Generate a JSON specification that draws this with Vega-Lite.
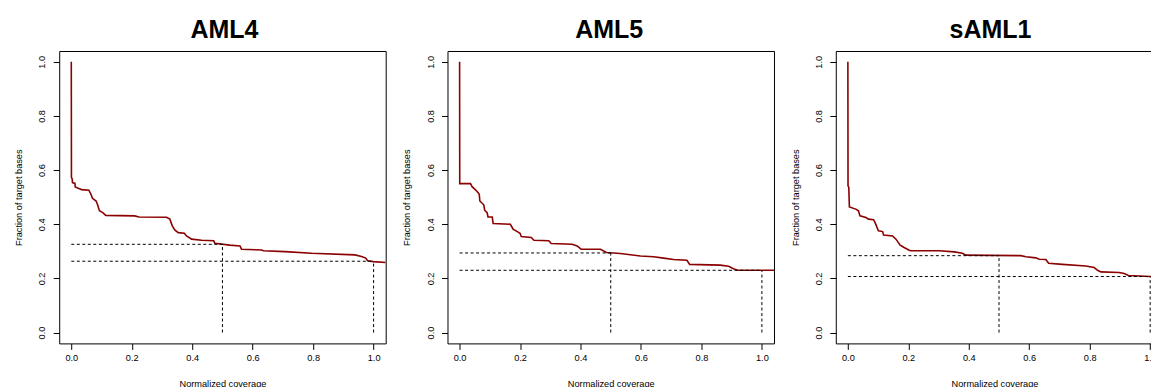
{
  "$schema": "https://vega.github.io/schema/vega-lite/v6.json",
  "background": "white",
  "padding": {"left": 14.2, "top": 17, "right": 0, "bottom": 0},
  "bounds": "flush",
  "spacing": 61.3,
  "config": {
    "font": "Liberation Sans",
    "view": {"stroke": "black", "strokeWidth": 1},
    "title": {"fontSize": 25, "fontWeight": "bold", "font": "Liberation Sans", "color": "black", "baseline": "alphabetic", "offset": 8.3, "anchor": "middle"},
    "axis": {"domain": false, "grid": false, "ticks": true, "tickSize": 6, "tickColor": "black", "tickWidth": 1, "labelFont": "Liberation Sans", "labelFontSize": 9.2, "labelColor": "black", "labelFlush": false, "labelOverlap": false, "labelBound": false, "titleFont": "Liberation Sans", "titleFontSize": 9.2, "titleFontWeight": "normal", "titleColor": "black"},
    "axisX": {"labelBaseline": "alphabetic", "labelPadding": 11, "titleBaseline": "alphabetic", "titleY": 43.2},
    "axisY": {"labelAngle": -90, "labelAlign": "center", "labelBaseline": "alphabetic", "labelPadding": 8.4, "titleAngle": -90, "titleBaseline": "alphabetic", "titleX": -37.5, "titleY": 146.2}
  },
  "datasets": {
    "curves": [
      {"panel": "AML4", "x": 0, "y": 1.0}, {"panel": "AML4", "x": 0.0005, "y": 0.573}, {"panel": "AML4", "x": 0.003, "y": 0.567}, {"panel": "AML4", "x": 0.004, "y": 0.554}, {"panel": "AML4", "x": 0.012, "y": 0.551}, {"panel": "AML4", "x": 0.013, "y": 0.538}, {"panel": "AML4", "x": 0.023, "y": 0.533}, {"panel": "AML4", "x": 0.034, "y": 0.528}, {"panel": "AML4", "x": 0.058, "y": 0.526}, {"panel": "AML4", "x": 0.065, "y": 0.511}, {"panel": "AML4", "x": 0.07, "y": 0.496}, {"panel": "AML4", "x": 0.082, "y": 0.486}, {"panel": "AML4", "x": 0.087, "y": 0.472}, {"panel": "AML4", "x": 0.093, "y": 0.45}, {"panel": "AML4", "x": 0.104, "y": 0.443}, {"panel": "AML4", "x": 0.114, "y": 0.433}, {"panel": "AML4", "x": 0.21, "y": 0.431}, {"panel": "AML4", "x": 0.224, "y": 0.427}, {"panel": "AML4", "x": 0.315, "y": 0.426}, {"panel": "AML4", "x": 0.326, "y": 0.419}, {"panel": "AML4", "x": 0.334, "y": 0.394}, {"panel": "AML4", "x": 0.343, "y": 0.378}, {"panel": "AML4", "x": 0.354, "y": 0.369}, {"panel": "AML4", "x": 0.374, "y": 0.367}, {"panel": "AML4", "x": 0.381, "y": 0.357}, {"panel": "AML4", "x": 0.398, "y": 0.345}, {"panel": "AML4", "x": 0.431, "y": 0.341}, {"panel": "AML4", "x": 0.471, "y": 0.339}, {"panel": "AML4", "x": 0.475, "y": 0.33}, {"panel": "AML4", "x": 0.524, "y": 0.323}, {"panel": "AML4", "x": 0.558, "y": 0.32}, {"panel": "AML4", "x": 0.563, "y": 0.308}, {"panel": "AML4", "x": 0.63, "y": 0.305}, {"panel": "AML4", "x": 0.635, "y": 0.302}, {"panel": "AML4", "x": 0.707, "y": 0.299}, {"panel": "AML4", "x": 0.795, "y": 0.293}, {"panel": "AML4", "x": 0.938, "y": 0.287}, {"panel": "AML4", "x": 0.96, "y": 0.281}, {"panel": "AML4", "x": 0.974, "y": 0.275}, {"panel": "AML4", "x": 0.98, "y": 0.265}, {"panel": "AML4", "x": 0.999, "y": 0.262}, {"panel": "AML4", "x": 1.04, "y": 0.259},
      {"panel": "AML5", "x": 0, "y": 1.0}, {"panel": "AML5", "x": 0.0005, "y": 0.55}, {"panel": "AML5", "x": 0.036, "y": 0.55}, {"panel": "AML5", "x": 0.042, "y": 0.538}, {"panel": "AML5", "x": 0.05, "y": 0.53}, {"panel": "AML5", "x": 0.058, "y": 0.521}, {"panel": "AML5", "x": 0.065, "y": 0.511}, {"panel": "AML5", "x": 0.067, "y": 0.486}, {"panel": "AML5", "x": 0.08, "y": 0.472}, {"panel": "AML5", "x": 0.083, "y": 0.452}, {"panel": "AML5", "x": 0.091, "y": 0.443}, {"panel": "AML5", "x": 0.094, "y": 0.427}, {"panel": "AML5", "x": 0.108, "y": 0.427}, {"panel": "AML5", "x": 0.111, "y": 0.403}, {"panel": "AML5", "x": 0.168, "y": 0.4}, {"panel": "AML5", "x": 0.177, "y": 0.382}, {"panel": "AML5", "x": 0.191, "y": 0.373}, {"panel": "AML5", "x": 0.2, "y": 0.367}, {"panel": "AML5", "x": 0.204, "y": 0.355}, {"panel": "AML5", "x": 0.237, "y": 0.351}, {"panel": "AML5", "x": 0.246, "y": 0.341}, {"panel": "AML5", "x": 0.295, "y": 0.339}, {"panel": "AML5", "x": 0.303, "y": 0.329}, {"panel": "AML5", "x": 0.372, "y": 0.326}, {"panel": "AML5", "x": 0.389, "y": 0.32}, {"panel": "AML5", "x": 0.402, "y": 0.308}, {"panel": "AML5", "x": 0.466, "y": 0.308}, {"panel": "AML5", "x": 0.486, "y": 0.296}, {"panel": "AML5", "x": 0.532, "y": 0.292}, {"panel": "AML5", "x": 0.598, "y": 0.283}, {"panel": "AML5", "x": 0.642, "y": 0.28}, {"panel": "AML5", "x": 0.675, "y": 0.275}, {"panel": "AML5", "x": 0.708, "y": 0.27}, {"panel": "AML5", "x": 0.752, "y": 0.267}, {"panel": "AML5", "x": 0.761, "y": 0.252}, {"panel": "AML5", "x": 0.862, "y": 0.249}, {"panel": "AML5", "x": 0.89, "y": 0.245}, {"panel": "AML5", "x": 0.906, "y": 0.236}, {"panel": "AML5", "x": 0.92, "y": 0.23}, {"panel": "AML5", "x": 1.04, "y": 0.23},
      {"panel": "sAML1", "x": 0, "y": 1.0}, {"panel": "sAML1", "x": 0.0005, "y": 0.542}, {"panel": "sAML1", "x": 0.003, "y": 0.536}, {"panel": "sAML1", "x": 0.005, "y": 0.464}, {"panel": "sAML1", "x": 0.026, "y": 0.456}, {"panel": "sAML1", "x": 0.035, "y": 0.45}, {"panel": "sAML1", "x": 0.04, "y": 0.431}, {"panel": "sAML1", "x": 0.06, "y": 0.425}, {"panel": "sAML1", "x": 0.068, "y": 0.419}, {"panel": "sAML1", "x": 0.085, "y": 0.417}, {"panel": "sAML1", "x": 0.09, "y": 0.406}, {"panel": "sAML1", "x": 0.101, "y": 0.376}, {"panel": "sAML1", "x": 0.115, "y": 0.373}, {"panel": "sAML1", "x": 0.118, "y": 0.36}, {"panel": "sAML1", "x": 0.148, "y": 0.357}, {"panel": "sAML1", "x": 0.159, "y": 0.345}, {"panel": "sAML1", "x": 0.173, "y": 0.323}, {"panel": "sAML1", "x": 0.186, "y": 0.314}, {"panel": "sAML1", "x": 0.203, "y": 0.304}, {"panel": "sAML1", "x": 0.208, "y": 0.302}, {"panel": "sAML1", "x": 0.302, "y": 0.302}, {"panel": "sAML1", "x": 0.352, "y": 0.298}, {"panel": "sAML1", "x": 0.379, "y": 0.293}, {"panel": "sAML1", "x": 0.39, "y": 0.286}, {"panel": "sAML1", "x": 0.572, "y": 0.284}, {"panel": "sAML1", "x": 0.589, "y": 0.28}, {"panel": "sAML1", "x": 0.622, "y": 0.276}, {"panel": "sAML1", "x": 0.633, "y": 0.271}, {"panel": "sAML1", "x": 0.655, "y": 0.27}, {"panel": "sAML1", "x": 0.664, "y": 0.256}, {"panel": "sAML1", "x": 0.71, "y": 0.252}, {"panel": "sAML1", "x": 0.787, "y": 0.246}, {"panel": "sAML1", "x": 0.815, "y": 0.24}, {"panel": "sAML1", "x": 0.826, "y": 0.23}, {"panel": "sAML1", "x": 0.837, "y": 0.224}, {"panel": "sAML1", "x": 0.897, "y": 0.222}, {"panel": "sAML1", "x": 0.914, "y": 0.218}, {"panel": "sAML1", "x": 0.928, "y": 0.211}, {"panel": "sAML1", "x": 0.964, "y": 0.209}, {"panel": "sAML1", "x": 1.0, "y": 0.207}, {"panel": "sAML1", "x": 1.04, "y": 0.205}
    ],
    "segs": [
      {"panel": "AML4", "xa": 0, "xb": 0.5, "ya": 0.326, "yb": 0.326}, {"panel": "AML4", "xa": 0.5, "xb": 0.5, "ya": 0, "yb": 0.326},
      {"panel": "AML4", "xa": 0, "xb": 1.0, "ya": 0.2635, "yb": 0.2635}, {"panel": "AML4", "xa": 1.0, "xb": 1.0, "ya": 0, "yb": 0.2635},
      {"panel": "AML5", "xa": 0, "xb": 0.5, "ya": 0.294, "yb": 0.294}, {"panel": "AML5", "xa": 0.5, "xb": 0.5, "ya": 0, "yb": 0.294},
      {"panel": "AML5", "xa": 0, "xb": 1.0, "ya": 0.23, "yb": 0.23}, {"panel": "AML5", "xa": 1.0, "xb": 1.0, "ya": 0, "yb": 0.23},
      {"panel": "sAML1", "xa": 0, "xb": 0.5, "ya": 0.284, "yb": 0.284}, {"panel": "sAML1", "xa": 0.5, "xb": 0.5, "ya": 0, "yb": 0.284},
      {"panel": "sAML1", "xa": 0, "xb": 1.0, "ya": 0.207, "yb": 0.207}, {"panel": "sAML1", "xa": 1.0, "xb": 1.0, "ya": 0, "yb": 0.207}
    ]
  },
  "hconcat": [
    {
      "title": {"text": "AML4", "dx": 2},
      "width": 326.5,
      "height": 292.4,
      "layer": [
        {
          "data": {"name": "curves"},
          "transform": [{"filter": "datum.panel === 'AML4'"}],
          "mark": {"type": "line", "color": "#8B0000", "strokeWidth": 1.6, "clip": true},
          "encoding": {
            "x": {"field": "x", "type": "quantitative", "title": "Normalized coverage", "scale": {"domain": [-0.04, 1.04], "nice": false, "zero": false}, "axis": {"values": [0, 0.2, 0.4, 0.6, 0.8, 1], "format": ".1f"}},
            "y": {"field": "y", "type": "quantitative", "title": "Fraction of target bases", "scale": {"domain": [-0.04, 1.04], "nice": false, "zero": false}, "axis": {"values": [0, 0.2, 0.4, 0.6, 0.8, 1], "format": ".1f"}}
          }
        },
        {
          "data": {"name": "segs"},
          "transform": [{"filter": "datum.panel === 'AML4'"}],
          "mark": {"type": "rule", "color": "black", "strokeWidth": 1, "strokeDash": [3, 2.5]},
          "encoding": {
            "x": {"field": "xa", "type": "quantitative", "title": "Normalized coverage"},
            "x2": {"field": "xb"},
            "y": {"field": "ya", "type": "quantitative", "title": "Fraction of target bases"},
            "y2": {"field": "yb"}
          }
        }
      ]
    },
    {
      "title": {"text": "AML5", "dx": -1.5},
      "width": 326.5,
      "height": 292.4,
      "layer": [
        {
          "data": {"name": "curves"},
          "transform": [{"filter": "datum.panel === 'AML5'"}],
          "mark": {"type": "line", "color": "#8B0000", "strokeWidth": 1.6, "clip": true},
          "encoding": {
            "x": {"field": "x", "type": "quantitative", "title": "Normalized coverage", "scale": {"domain": [-0.04, 1.04], "nice": false, "zero": false}, "axis": {"values": [0, 0.2, 0.4, 0.6, 0.8, 1], "format": ".1f"}},
            "y": {"field": "y", "type": "quantitative", "title": "Fraction of target bases", "scale": {"domain": [-0.04, 1.04], "nice": false, "zero": false}, "axis": {"values": [0, 0.2, 0.4, 0.6, 0.8, 1], "format": ".1f"}}
          }
        },
        {
          "data": {"name": "segs"},
          "transform": [{"filter": "datum.panel === 'AML5'"}],
          "mark": {"type": "rule", "color": "black", "strokeWidth": 1, "strokeDash": [3, 2.5]},
          "encoding": {
            "x": {"field": "xa", "type": "quantitative", "title": "Normalized coverage"},
            "x2": {"field": "xb"},
            "y": {"field": "ya", "type": "quantitative", "title": "Fraction of target bases"},
            "y2": {"field": "yb"}
          }
        }
      ]
    },
    {
      "title": {"text": "sAML1", "dx": -4},
      "width": 317.4,
      "height": 292.4,
      "layer": [
        {
          "data": {"name": "curves"},
          "transform": [{"filter": "datum.panel === 'sAML1'"}],
          "mark": {"type": "line", "color": "#8B0000", "strokeWidth": 1.6, "clip": true},
          "encoding": {
            "x": {"field": "x", "type": "quantitative", "title": "Normalized coverage", "scale": {"domain": [-0.04, 1.01], "nice": false, "zero": false}, "axis": {"values": [0, 0.2, 0.4, 0.6, 0.8, 1], "format": ".1f"}},
            "y": {"field": "y", "type": "quantitative", "title": "Fraction of target bases", "scale": {"domain": [-0.04, 1.04], "nice": false, "zero": false}, "axis": {"values": [0, 0.2, 0.4, 0.6, 0.8, 1], "format": ".1f"}}
          }
        },
        {
          "data": {"name": "segs"},
          "transform": [{"filter": "datum.panel === 'sAML1'"}],
          "mark": {"type": "rule", "color": "black", "strokeWidth": 1, "strokeDash": [3, 2.5]},
          "encoding": {
            "x": {"field": "xa", "type": "quantitative", "title": "Normalized coverage"},
            "x2": {"field": "xb"},
            "y": {"field": "ya", "type": "quantitative", "title": "Fraction of target bases"},
            "y2": {"field": "yb"}
          }
        }
      ]
    }
  ]
}
